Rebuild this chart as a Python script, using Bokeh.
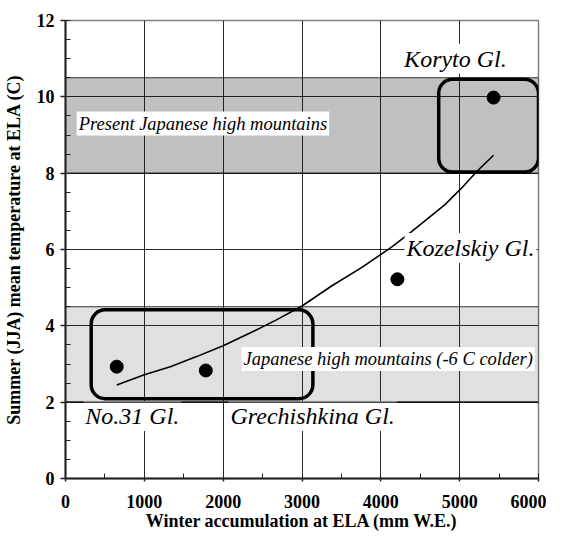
from bokeh.plotting import figure
from bokeh.models import BoxAnnotation, Label, Range1d, SingleIntervalTicker, ColumnDataSource, Span
from bokeh.embed import file_html
from bokeh.resources import INLINE

# ---- data ----
glacier_names = ["No.31 Gl.", "Grechishkina Gl.", "Kozelskiy Gl.", "Koryto Gl."]
accum_mm = [650, 1780, 4210, 5430]
summer_temp = [2.93, 2.83, 5.22, 9.98]

curve_x = [650, 1000, 1330, 1670, 2000, 2340, 2670, 3000, 3380, 3760, 4140, 4390, 4810, 5020, 5220, 5430]
curve_y = [2.45, 2.72, 2.93, 3.20, 3.48, 3.81, 4.15, 4.52, 5.05, 5.53, 6.07, 6.47, 7.17, 7.60, 8.05, 8.47]

band_names = ["Present Japanese high mountains", "Japanese high mountains (-6 C colder)"]
band_bottom = [8.0, 2.0]
band_top = [10.5, 4.5]
band_colors = ["#c0c0c0", "#e0e0e0"]

# rounded group boxes: (left, right, bottom, top)
box_left = [326, 4734]
box_right = [3138, 6000]
box_bottom = [2.09, 8.03]
box_top = [4.42, 10.46]

# label anchor positions (data coords, left / baseline)
name_x = [226, 2067, 4300, 4270]
name_y = [1.64, 1.64, 6.04, 11.0]
band_label_x = [142, 2233]
band_label_y = [9.30, 3.13]

x_ticks_interval = 1000
y_ticks_interval = 2

FONT = "'Liberation Serif', 'Times New Roman', serif"

p = figure(width=546, height=533, output_backend="svg", toolbar_location=None,
           x_range=Range1d(0, 6000), y_range=Range1d(0, 12),
           min_border_left=59, min_border_right=8, min_border_top=20, min_border_bottom=54)

p.outline_line_color = "#808080"
p.outline_line_width = 1.5
p.background_fill_color = "white"
p.border_fill_color = "white"

xt = SingleIntervalTicker(interval=x_ticks_interval, num_minor_ticks=2)
yt = SingleIntervalTicker(interval=y_ticks_interval, num_minor_ticks=4)
p.xaxis.ticker = xt
p.yaxis.ticker = yt
p.xgrid.ticker = xt
p.ygrid.ticker = yt
for g in (p.xgrid, p.ygrid):
    g.grid_line_color = "#111111"
    g.grid_line_width = 1
    g.grid_line_alpha = 0.9

for ax in (p.xaxis, p.yaxis):
    ax.axis_line_color = "#222222"
    ax.axis_line_width = 2
    ax.major_tick_line_color = "#222222"
    ax.minor_tick_line_color = "#222222"
    ax.major_tick_line_width = 1.5
    ax.minor_tick_line_width = 1
    ax.major_label_text_font = FONT
    ax.major_label_text_font_style = "bold"
    ax.major_label_text_font_size = "18px"
    ax.major_label_text_color = "black"
    ax.axis_label_text_font = FONT
    ax.axis_label_text_font_style = "bold"
    ax.axis_label_text_font_size = "18px"
    ax.axis_label_text_color = "black"
    ax.major_tick_in = 0
    ax.minor_tick_out = 0

p.xaxis.major_tick_out = 3
p.xaxis.minor_tick_in = 5
p.xaxis.major_label_standoff = 13
p.xaxis.axis_label_standoff = 0
p.xaxis.axis_label = "Winter accumulation at ELA (mm W.E.)"

p.yaxis.major_tick_out = 5
p.yaxis.minor_tick_in = 5
p.yaxis.major_label_standoff = 6
p.yaxis.axis_label_standoff = 10
p.yaxis.axis_label = "Summer (JJA) mean temperature at ELA (C)"

# shaded bands
for b, t, c in zip(band_bottom, band_top, band_colors):
    p.add_layout(BoxAnnotation(bottom=b, top=t, fill_color=c, fill_alpha=1.0,
                               line_color="#333333", line_alpha=1.0, line_width=1.2, level="image"))

# curve
p.line(curve_x, curve_y, line_color="black", line_width=1.6)

# points
src = ColumnDataSource(dict(x=accum_mm, y=summer_temp, name=glacier_names))
p.scatter("x", "y", source=src, size=13, fill_color="black", line_color="black")

# rounded group boxes
for l, r, b, t in zip(box_left, box_right, box_bottom, box_top):
    p.add_layout(BoxAnnotation(left=l, right=r, bottom=b, top=t, fill_alpha=0,
                               line_color="black", line_alpha=1.0, line_width=3.5,
                               border_radius=14))

# band labels
for txt, x, y in zip(band_names, band_label_x, band_label_y):
    p.add_layout(Label(x=x, y=y, text=txt, text_font=FONT, text_font_style="italic",
                       text_font_size="18.5px", text_color="black", text_baseline="alphabetic",
                       background_fill_color="white", padding=2))

# glacier name labels
for txt, x, y in zip(glacier_names, name_x, name_y):
    p.add_layout(Label(x=x, y=y, text=txt, text_font=FONT, text_font_style="italic",
                       text_font_size="24px", text_color="black", text_baseline="alphabetic",
                       background_fill_color="white", padding=2))

# lower band's bottom edge stays visible above the label backgrounds
p.add_layout(Span(location=band_bottom[1], dimension="width",
                  line_color="#111111", line_width=1.2))

open("out.html", "w").write(file_html(p, INLINE))
